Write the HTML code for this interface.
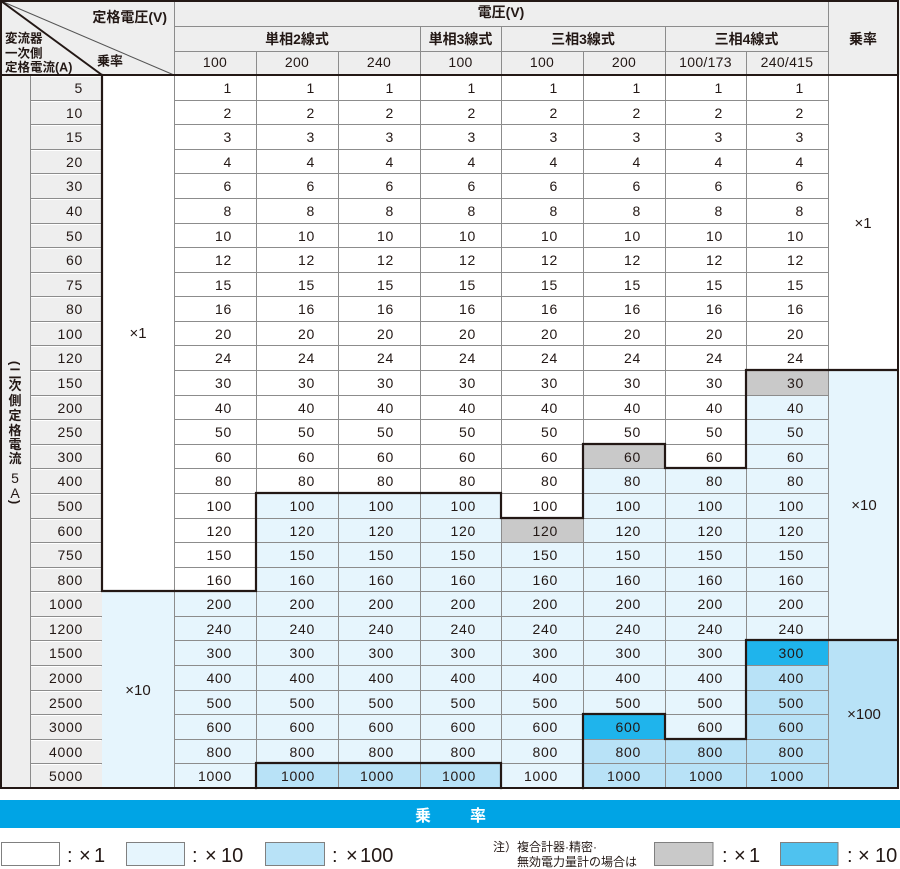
<!DOCTYPE html>
<html><head><meta charset="utf-8">
<style>
html,body{margin:0;padding:0;background:#fff;}
svg{display:block;}
text{font-family:"Liberation Sans","Noto Sans CJK JP",sans-serif;fill:#231815;}
.n text{font-size:14px;text-anchor:end;letter-spacing:0.7px;}
.h{font-size:14px;font-weight:bold;text-anchor:middle;}
.c{font-size:14px;text-anchor:middle;letter-spacing:0.3px;}
.m{font-size:15px;text-anchor:middle;}
.v{font-size:13px;font-weight:bold;text-anchor:middle;}
.lg{font-size:20px;}
.nt{font-size:12px;}
</style></head>
<body>
<svg width="900" height="869" viewBox="0 0 900 869" xmlns="http://www.w3.org/2000/svg">
<rect x="0" y="0" width="900" height="75" fill="#eeeeee"/>
<rect x="0" y="75" width="102" height="713" fill="#eeeeee"/>
<rect x="102" y="591" width="72" height="197" fill="#e6f5fd"/>
<rect x="174" y="591" width="82" height="197" fill="#e6f5fd"/>
<rect x="256" y="493" width="245" height="270" fill="#e6f5fd"/>
<rect x="256" y="763" width="245" height="25" fill="#b8e2f7"/>
<rect x="501" y="518" width="82" height="24" fill="#c9c9c9"/>
<rect x="501" y="542" width="82" height="246" fill="#e6f5fd"/>
<rect x="583" y="444" width="82" height="24" fill="#c9c9c9"/>
<rect x="583" y="468" width="82" height="246" fill="#e6f5fd"/>
<rect x="583" y="714" width="82" height="25" fill="#1fb4ec"/>
<rect x="583" y="739" width="82" height="49" fill="#b8e2f7"/>
<rect x="665" y="468" width="81" height="271" fill="#e6f5fd"/>
<rect x="665" y="739" width="81" height="49" fill="#b8e2f7"/>
<rect x="746" y="370" width="82" height="25" fill="#c9c9c9"/>
<rect x="746" y="395" width="82" height="245" fill="#e6f5fd"/>
<rect x="746" y="640" width="82" height="25" fill="#1fb4ec"/>
<rect x="746" y="665" width="82" height="123" fill="#b8e2f7"/>
<rect x="828" y="370" width="70" height="270" fill="#e6f5fd"/>
<rect x="828" y="640" width="70" height="148" fill="#b8e2f7"/>

<path d="M31 101.5H101M31 125.5H101M31 150.5H101M31 174.5H101M31 199.5H101M31 224.5H101M31 248.5H101M31 273.5H101M31 297.5H101M31 322.5H101M31 346.5H101M31 371.5H101M31 396.5H101M31 420.5H101M31 445.5H101M31 469.5H101M31 494.5H101M31 519.5H101M31 543.5H101M31 568.5H101M31 592.5H101M31 617.5H101M31 641.5H101M31 666.5H101M31 691.5H101M31 715.5H101M31 740.5H101M31 764.5H101M31 76.5H101" stroke="#ffffff" stroke-width="1" fill="none"/>

<path d="M30 100.5H102M174 100.5H828M30 124.5H102M174 124.5H828M30 149.5H102M174 149.5H828M30 173.5H102M174 173.5H828M30 198.5H102M174 198.5H828M30 223.5H102M174 223.5H828M30 247.5H102M174 247.5H828M30 272.5H102M174 272.5H828M30 296.5H102M174 296.5H828M30 321.5H102M174 321.5H828M30 345.5H102M174 345.5H828M30 370.5H102M174 370.5H828M30 395.5H102M174 395.5H828M30 419.5H102M174 419.5H828M30 444.5H102M174 444.5H828M30 468.5H102M174 468.5H828M30 493.5H102M174 493.5H828M30 518.5H102M174 518.5H828M30 542.5H102M174 542.5H828M30 567.5H102M174 567.5H828M30 591.5H102M174 591.5H828M30 616.5H102M174 616.5H828M30 640.5H102M174 640.5H828M30 665.5H102M174 665.5H828M30 690.5H102M174 690.5H828M30 714.5H102M174 714.5H828M30 739.5H102M174 739.5H828M30 763.5H102M174 763.5H828" stroke="#8c8c8c" stroke-width="1" fill="none"/>
<path d="M30.5 75V788M174.5 0V788M256.5 51V788M338.5 51V788M420.5 26V788M501.5 26V788M583.5 51V788M665.5 26V788M746.5 51V788M828.5 0V788M174 26.5H828M174 51.5H828" stroke="#8c8c8c" stroke-width="1" fill="none"/>

<path d="M1 1L174 75" stroke="#555" stroke-width="1" fill="none"/>
<path d="M1 1L102 75" stroke="#231815" stroke-width="2" fill="none"/>

<rect x="1" y="1" width="897" height="787" fill="none" stroke="#231815" stroke-width="2"/>
<path d="M0 75H898" stroke="#231815" stroke-width="2" fill="none"/>
<path d="M102 75V591H256V493H501V518H583V444H665V468H746V370H897" stroke="#231815" stroke-width="2.2" fill="none" stroke-linecap="square"/>
<path d="M256 788V763H501V788M583 788V714H665V739H746V640H897" stroke="#231815" stroke-width="2.2" fill="none" stroke-linecap="square"/>

<text class="h" x="167" y="22" style="text-anchor:end">定格電圧(V)</text>
<text x="5" y="42.5" style="font-size:12.5px;font-weight:bold">変流器</text>
<text x="5" y="57.5" style="font-size:12.5px;font-weight:bold">一次側</text>
<text x="5" y="71.5" style="font-size:12.5px;font-weight:bold">定格電流(A)</text>
<text x="97" y="65.5" style="font-size:13px;font-weight:bold">乗率</text>
<text class="h" x="501" y="17">電圧(V)</text>
<text class="h" x="297" y="44">単相2線式</text>
<text class="h" x="460.5" y="44">単相3線式</text>
<text class="h" x="583" y="44">三相3線式</text>
<text class="h" x="746.5" y="44">三相4線式</text>
<text class="h" x="863" y="44">乗率</text>
<text class="c" x="215" y="67">100</text>
<text class="c" x="297" y="67">200</text>
<text class="c" x="379" y="67">240</text>
<text class="c" x="460.5" y="67">100</text>
<text class="c" x="542" y="67">100</text>
<text class="c" x="624" y="67">200</text>
<text class="c" x="705.5" y="67">100/173</text>
<text class="c" x="787" y="67">240/415</text>

<text class="v" transform="translate(15,363) rotate(90)" dominant-baseline="central">(</text>
<text class="v" x="15" y="378">二</text>
<text class="v" x="15" y="390">次</text>
<text class="v" x="15" y="405">側</text>
<text class="v" x="15" y="420">定</text>
<text class="v" x="15" y="435">格</text>
<text class="v" x="15" y="449">電</text>
<text class="v" x="15" y="463">流</text>
<text class="v" x="15" y="483" style="font-weight:normal;font-size:14px">5</text>
<text class="v" x="15" y="498" style="font-weight:normal;font-size:14px">A</text>
<text class="v" transform="translate(15,502) rotate(90)" dominant-baseline="central">)</text>

<text class="m" x="138" y="338">×1</text>
<text class="m" x="138" y="695">×10</text>
<text class="m" x="863" y="228">×1</text>
<text class="m" x="864" y="510">×10</text>
<text class="m" x="864" y="719">×100</text>

<g class="n">
<g transform="translate(0,93)"><text x="83">5</text><text x="232">1</text><text x="315">1</text><text x="394">1</text><text x="476">1</text><text x="558">1</text><text x="641">1</text><text x="723">1</text><text x="804">1</text></g>
<g transform="translate(0,118)"><text x="83">10</text><text x="232">2</text><text x="315">2</text><text x="394">2</text><text x="476">2</text><text x="558">2</text><text x="641">2</text><text x="723">2</text><text x="804">2</text></g>
<g transform="translate(0,142)"><text x="83">15</text><text x="232">3</text><text x="315">3</text><text x="394">3</text><text x="476">3</text><text x="558">3</text><text x="641">3</text><text x="723">3</text><text x="804">3</text></g>
<g transform="translate(0,167)"><text x="83">20</text><text x="232">4</text><text x="315">4</text><text x="394">4</text><text x="476">4</text><text x="558">4</text><text x="641">4</text><text x="723">4</text><text x="804">4</text></g>
<g transform="translate(0,191)"><text x="83">30</text><text x="232">6</text><text x="315">6</text><text x="394">6</text><text x="476">6</text><text x="558">6</text><text x="641">6</text><text x="723">6</text><text x="804">6</text></g>
<g transform="translate(0,216)"><text x="83">40</text><text x="232">8</text><text x="315">8</text><text x="394">8</text><text x="476">8</text><text x="558">8</text><text x="641">8</text><text x="723">8</text><text x="804">8</text></g>
<g transform="translate(0,241)"><text x="83">50</text><text x="232">10</text><text x="315">10</text><text x="394">10</text><text x="476">10</text><text x="558">10</text><text x="641">10</text><text x="723">10</text><text x="804">10</text></g>
<g transform="translate(0,265)"><text x="83">60</text><text x="232">12</text><text x="315">12</text><text x="394">12</text><text x="476">12</text><text x="558">12</text><text x="641">12</text><text x="723">12</text><text x="804">12</text></g>
<g transform="translate(0,290)"><text x="83">75</text><text x="232">15</text><text x="315">15</text><text x="394">15</text><text x="476">15</text><text x="558">15</text><text x="641">15</text><text x="723">15</text><text x="804">15</text></g>
<g transform="translate(0,314)"><text x="83">80</text><text x="232">16</text><text x="315">16</text><text x="394">16</text><text x="476">16</text><text x="558">16</text><text x="641">16</text><text x="723">16</text><text x="804">16</text></g>
<g transform="translate(0,339)"><text x="83">100</text><text x="232">20</text><text x="315">20</text><text x="394">20</text><text x="476">20</text><text x="558">20</text><text x="641">20</text><text x="723">20</text><text x="804">20</text></g>
<g transform="translate(0,363)"><text x="83">120</text><text x="232">24</text><text x="315">24</text><text x="394">24</text><text x="476">24</text><text x="558">24</text><text x="641">24</text><text x="723">24</text><text x="804">24</text></g>
<g transform="translate(0,388)"><text x="83">150</text><text x="232">30</text><text x="315">30</text><text x="394">30</text><text x="476">30</text><text x="558">30</text><text x="641">30</text><text x="723">30</text><text x="804">30</text></g>
<g transform="translate(0,413)"><text x="83">200</text><text x="232">40</text><text x="315">40</text><text x="394">40</text><text x="476">40</text><text x="558">40</text><text x="641">40</text><text x="723">40</text><text x="804">40</text></g>
<g transform="translate(0,437)"><text x="83">250</text><text x="232">50</text><text x="315">50</text><text x="394">50</text><text x="476">50</text><text x="558">50</text><text x="641">50</text><text x="723">50</text><text x="804">50</text></g>
<g transform="translate(0,462)"><text x="83">300</text><text x="232">60</text><text x="315">60</text><text x="394">60</text><text x="476">60</text><text x="558">60</text><text x="641">60</text><text x="723">60</text><text x="804">60</text></g>
<g transform="translate(0,486)"><text x="83">400</text><text x="232">80</text><text x="315">80</text><text x="394">80</text><text x="476">80</text><text x="558">80</text><text x="641">80</text><text x="723">80</text><text x="804">80</text></g>
<g transform="translate(0,511)"><text x="83">500</text><text x="232">100</text><text x="315">100</text><text x="394">100</text><text x="476">100</text><text x="558">100</text><text x="641">100</text><text x="723">100</text><text x="804">100</text></g>
<g transform="translate(0,536)"><text x="83">600</text><text x="232">120</text><text x="315">120</text><text x="394">120</text><text x="476">120</text><text x="558">120</text><text x="641">120</text><text x="723">120</text><text x="804">120</text></g>
<g transform="translate(0,560)"><text x="83">750</text><text x="232">150</text><text x="315">150</text><text x="394">150</text><text x="476">150</text><text x="558">150</text><text x="641">150</text><text x="723">150</text><text x="804">150</text></g>
<g transform="translate(0,585)"><text x="83">800</text><text x="232">160</text><text x="315">160</text><text x="394">160</text><text x="476">160</text><text x="558">160</text><text x="641">160</text><text x="723">160</text><text x="804">160</text></g>
<g transform="translate(0,609)"><text x="83">1000</text><text x="232">200</text><text x="315">200</text><text x="394">200</text><text x="476">200</text><text x="558">200</text><text x="641">200</text><text x="723">200</text><text x="804">200</text></g>
<g transform="translate(0,634)"><text x="83">1200</text><text x="232">240</text><text x="315">240</text><text x="394">240</text><text x="476">240</text><text x="558">240</text><text x="641">240</text><text x="723">240</text><text x="804">240</text></g>
<g transform="translate(0,658)"><text x="83">1500</text><text x="232">300</text><text x="315">300</text><text x="394">300</text><text x="476">300</text><text x="558">300</text><text x="641">300</text><text x="723">300</text><text x="804">300</text></g>
<g transform="translate(0,683)"><text x="83">2000</text><text x="232">400</text><text x="315">400</text><text x="394">400</text><text x="476">400</text><text x="558">400</text><text x="641">400</text><text x="723">400</text><text x="804">400</text></g>
<g transform="translate(0,708)"><text x="83">2500</text><text x="232">500</text><text x="315">500</text><text x="394">500</text><text x="476">500</text><text x="558">500</text><text x="641">500</text><text x="723">500</text><text x="804">500</text></g>
<g transform="translate(0,732)"><text x="83">3000</text><text x="232">600</text><text x="315">600</text><text x="394">600</text><text x="476">600</text><text x="558">600</text><text x="641">600</text><text x="723">600</text><text x="804">600</text></g>
<g transform="translate(0,757)"><text x="83">4000</text><text x="232">800</text><text x="315">800</text><text x="394">800</text><text x="476">800</text><text x="558">800</text><text x="641">800</text><text x="723">800</text><text x="804">800</text></g>
<g transform="translate(0,781)"><text x="83">5000</text><text x="232">1000</text><text x="315">1000</text><text x="394">1000</text><text x="476">1000</text><text x="558">1000</text><text x="641">1000</text><text x="723">1000</text><text x="804">1000</text></g>
</g>

<rect x="0" y="800" width="900" height="28" fill="#00a4e5"/>
<text x="415" y="821" style="font-size:16px;font-weight:bold;fill:#ffffff">乗</text>
<text x="470" y="821" style="font-size:16px;font-weight:bold;fill:#ffffff">率</text>

<rect x="1.5" y="842.5" width="58" height="23" fill="#ffffff" stroke="#808080" stroke-width="1"/>
<rect x="126.5" y="842.5" width="58" height="23" fill="#e6f5fd" stroke="#808080" stroke-width="1"/>
<rect x="265.5" y="842.5" width="59" height="23" fill="#b8e2f7" stroke="#808080" stroke-width="1"/>
<rect x="654.5" y="842.5" width="58.5" height="23" fill="#c9c9c9" stroke="#808080" stroke-width="1"/>
<rect x="780.5" y="842.5" width="57.5" height="23" fill="#4fc2ef" stroke="#808080" stroke-width="1"/>

<text class="lg" x="67" y="862">:</text><text class="lg" x="79" y="862">×</text><text class="lg" x="94" y="862">1</text>
<text class="lg" x="192" y="862">:</text><text class="lg" x="205" y="862">×</text><text class="lg" x="221" y="862">10</text>
<text class="lg" x="332" y="862">:</text><text class="lg" x="346" y="862">×</text><text class="lg" x="360" y="862">100</text>
<text class="lg" x="722" y="862">:</text><text class="lg" x="734" y="862">×</text><text class="lg" x="749" y="862">1</text>
<text class="lg" x="847" y="862">:</text><text class="lg" x="858" y="862">×</text><text class="lg" x="875" y="862">10</text>

<text class="nt" x="493" y="851">注）複合計器·精密·</text>
<text class="nt" x="517" y="866">無効電力量計の場合は</text>
</svg>
</body></html>
